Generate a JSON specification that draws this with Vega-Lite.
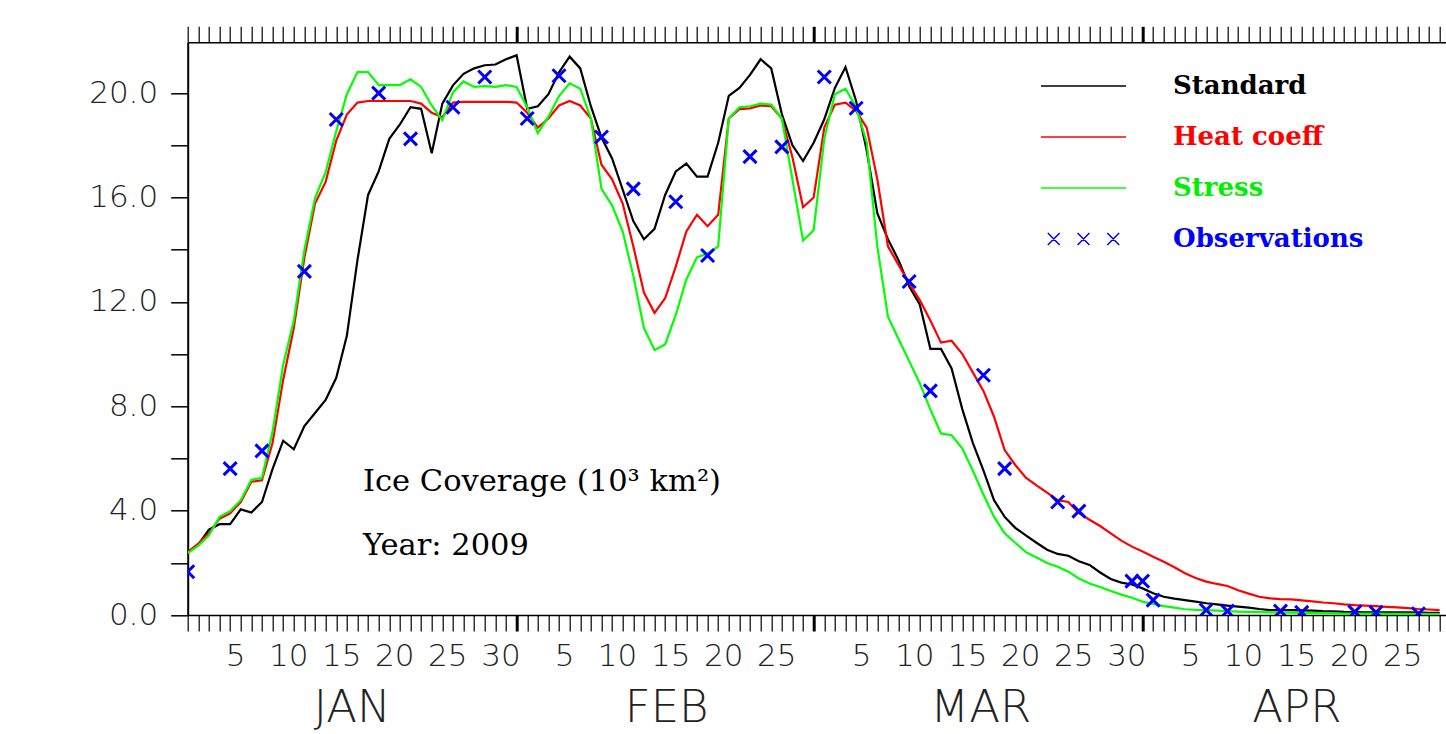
{
  "$schema": "https://vega.github.io/schema/vega-lite/v6.json",
  "autosize": {"type": "none"},
  "padding": {"left": 187.7, "top": 42.3, "right": 0, "bottom": 119},
  "width": 1258.3,
  "height": 572.7,
  "background": "white",
  "config": {
    "view": {"stroke": null},
    "axis": {"grid": false, "domainColor": "#000000", "tickColor": "#000000", "labelColor": "#222222", "labelFont": "DejaVu Sans"},
    "axisY": {
      "title": null,
      "values": [0,2,4,6,8,10,12,14,16,18,20],
      "labelExpr": "datum.value % 4 == 0 ? format(datum.value, '.1f') : ''",
      "tickSize": 17, "tickWidth": 1.5, "labelPadding": 13,
      "labelFontSize": 31, "labelFontWeight": 200,
      "labelOverlap": false, "labelBound": false, "labelFlush": false,
      "domainWidth": 2
    }
  },
  "datasets": {
    "model": [
      {"doy":1,"Standard":2.41,"Heat coeff":2.41,"Stress":2.37},
      {"doy":2,"Standard":2.7,"Heat coeff":2.74,"Stress":2.66},
      {"doy":3,"Standard":3.27,"Heat coeff":3.13,"Stress":3.05},
      {"doy":4,"Standard":3.48,"Heat coeff":3.69,"Stress":3.76},
      {"doy":5,"Standard":3.48,"Heat coeff":3.9,"Stress":3.98},
      {"doy":6,"Standard":4.05,"Heat coeff":4.33,"Stress":4.4},
      {"doy":7,"Standard":3.93,"Heat coeff":5.11,"Stress":5.18},
      {"doy":8,"Standard":4.33,"Heat coeff":5.16,"Stress":5.26},
      {"doy":9,"Standard":5.6,"Heat coeff":6.6,"Stress":7.03},
      {"doy":10,"Standard":6.68,"Heat coeff":9.02,"Stress":9.59},
      {"doy":11,"Standard":6.35,"Heat coeff":11.0,"Stress":11.29},
      {"doy":12,"Standard":7.24,"Heat coeff":13.7,"Stress":13.99},
      {"doy":13,"Standard":7.74,"Heat coeff":15.77,"Stress":15.98},
      {"doy":14,"Standard":8.24,"Heat coeff":16.6,"Stress":16.97},
      {"doy":15,"Standard":9.09,"Heat coeff":18.18,"Stress":18.54},
      {"doy":16,"Standard":10.7,"Heat coeff":19.18,"Stress":19.96},
      {"doy":17,"Standard":13.6,"Heat coeff":19.64,"Stress":20.81},
      {"doy":18,"Standard":16.1,"Heat coeff":19.7,"Stress":20.81},
      {"doy":19,"Standard":17.0,"Heat coeff":19.7,"Stress":20.31},
      {"doy":20,"Standard":18.25,"Heat coeff":19.7,"Stress":20.31},
      {"doy":21,"Standard":18.8,"Heat coeff":19.7,"Stress":20.31},
      {"doy":22,"Standard":19.46,"Heat coeff":19.7,"Stress":20.53},
      {"doy":23,"Standard":19.4,"Heat coeff":19.6,"Stress":20.24},
      {"doy":24,"Standard":17.7,"Heat coeff":19.25,"Stress":19.53},
      {"doy":25,"Standard":19.6,"Heat coeff":19.08,"Stress":18.96},
      {"doy":26,"Standard":20.3,"Heat coeff":19.64,"Stress":20.03},
      {"doy":27,"Standard":20.74,"Heat coeff":19.67,"Stress":20.45},
      {"doy":28,"Standard":20.95,"Heat coeff":19.67,"Stress":20.24},
      {"doy":29,"Standard":21.07,"Heat coeff":19.67,"Stress":20.27},
      {"doy":30,"Standard":21.1,"Heat coeff":19.67,"Stress":20.24},
      {"doy":31,"Standard":21.3,"Heat coeff":19.67,"Stress":20.31},
      {"doy":32,"Standard":21.45,"Heat coeff":19.64,"Stress":20.24},
      {"doy":33,"Standard":19.4,"Heat coeff":19.25,"Stress":19.46},
      {"doy":34,"Standard":19.5,"Heat coeff":18.68,"Stress":18.47},
      {"doy":35,"Standard":19.96,"Heat coeff":19.03,"Stress":19.1},
      {"doy":36,"Standard":20.8,"Heat coeff":19.53,"Stress":19.89},
      {"doy":37,"Standard":21.4,"Heat coeff":19.7,"Stress":20.38},
      {"doy":38,"Standard":20.95,"Heat coeff":19.53,"Stress":20.17},
      {"doy":39,"Standard":19.5,"Heat coeff":19.03,"Stress":19.03},
      {"doy":40,"Standard":18.3,"Heat coeff":17.26,"Stress":16.33},
      {"doy":41,"Standard":17.5,"Heat coeff":16.7,"Stress":15.7},
      {"doy":42,"Standard":16.3,"Heat coeff":15.77,"Stress":14.7},
      {"doy":43,"Standard":15.1,"Heat coeff":14.13,"Stress":13.0},
      {"doy":44,"Standard":14.4,"Heat coeff":12.36,"Stress":11.0},
      {"doy":45,"Standard":14.8,"Heat coeff":11.58,"Stress":10.16},
      {"doy":46,"Standard":16.1,"Heat coeff":12.14,"Stress":10.37},
      {"doy":47,"Standard":17.0,"Heat coeff":13.35,"Stress":11.5},
      {"doy":48,"Standard":17.3,"Heat coeff":14.7,"Stress":12.86},
      {"doy":49,"Standard":16.8,"Heat coeff":15.34,"Stress":13.71},
      {"doy":50,"Standard":16.8,"Heat coeff":14.9,"Stress":13.85},
      {"doy":51,"Standard":18.1,"Heat coeff":15.34,"Stress":14.13},
      {"doy":52,"Standard":19.9,"Heat coeff":19.03,"Stress":19.03},
      {"doy":53,"Standard":20.2,"Heat coeff":19.39,"Stress":19.46},
      {"doy":54,"Standard":20.7,"Heat coeff":19.42,"Stress":19.5},
      {"doy":55,"Standard":21.3,"Heat coeff":19.53,"Stress":19.6},
      {"doy":56,"Standard":20.95,"Heat coeff":19.5,"Stress":19.56},
      {"doy":57,"Standard":19.2,"Heat coeff":19.03,"Stress":19.03},
      {"doy":58,"Standard":18.0,"Heat coeff":17.54,"Stress":16.69},
      {"doy":59,"Standard":17.4,"Heat coeff":15.63,"Stress":14.35},
      {"doy":60,"Standard":18.1,"Heat coeff":16.0,"Stress":14.75},
      {"doy":61,"Standard":19.0,"Heat coeff":18.68,"Stress":18.25},
      {"doy":62,"Standard":20.2,"Heat coeff":19.56,"Stress":19.96},
      {"doy":63,"Standard":21.0,"Heat coeff":19.64,"Stress":20.17},
      {"doy":64,"Standard":19.7,"Heat coeff":19.32,"Stress":19.46},
      {"doy":65,"Standard":17.8,"Heat coeff":18.68,"Stress":18.11},
      {"doy":66,"Standard":15.4,"Heat coeff":16.7,"Stress":14.13},
      {"doy":67,"Standard":14.4,"Heat coeff":14.13,"Stress":11.43},
      {"doy":68,"Standard":13.6,"Heat coeff":13.42,"Stress":10.58},
      {"doy":69,"Standard":12.6,"Heat coeff":12.71,"Stress":9.73},
      {"doy":70,"Standard":11.9,"Heat coeff":12.07,"Stress":8.88},
      {"doy":71,"Standard":10.2,"Heat coeff":11.29,"Stress":7.88},
      {"doy":72,"Standard":10.2,"Heat coeff":10.44,"Stress":6.96},
      {"doy":73,"Standard":9.45,"Heat coeff":10.51,"Stress":6.89},
      {"doy":74,"Standard":7.9,"Heat coeff":10.01,"Stress":6.39},
      {"doy":75,"Standard":6.6,"Heat coeff":9.3,"Stress":5.54},
      {"doy":76,"Standard":5.54,"Heat coeff":8.59,"Stress":4.62},
      {"doy":77,"Standard":4.4,"Heat coeff":7.6,"Stress":3.76},
      {"doy":78,"Standard":3.76,"Heat coeff":6.32,"Stress":3.13},
      {"doy":79,"Standard":3.34,"Heat coeff":5.75,"Stress":2.77},
      {"doy":80,"Standard":3.05,"Heat coeff":5.26,"Stress":2.41},
      {"doy":81,"Standard":2.77,"Heat coeff":4.97,"Stress":2.2},
      {"doy":82,"Standard":2.5,"Heat coeff":4.69,"Stress":1.99},
      {"doy":83,"Standard":2.34,"Heat coeff":4.4,"Stress":1.85},
      {"doy":84,"Standard":2.27,"Heat coeff":4.33,"Stress":1.66},
      {"doy":85,"Standard":2.06,"Heat coeff":3.9,"Stress":1.4},
      {"doy":86,"Standard":1.92,"Heat coeff":3.65,"Stress":1.21},
      {"doy":87,"Standard":1.63,"Heat coeff":3.41,"Stress":1.07},
      {"doy":88,"Standard":1.38,"Heat coeff":3.13,"Stress":0.92},
      {"doy":89,"Standard":1.24,"Heat coeff":2.85,"Stress":0.78},
      {"doy":90,"Standard":1.17,"Heat coeff":2.62,"Stress":0.66},
      {"doy":91,"Standard":1.02,"Heat coeff":2.43,"Stress":0.51},
      {"doy":92,"Standard":0.83,"Heat coeff":2.23,"Stress":0.42},
      {"doy":93,"Standard":0.7,"Heat coeff":2.04,"Stress":0.34},
      {"doy":94,"Standard":0.63,"Heat coeff":1.83,"Stress":0.28},
      {"doy":95,"Standard":0.57,"Heat coeff":1.6,"Stress":0.22},
      {"doy":96,"Standard":0.51,"Heat coeff":1.42,"Stress":0.2},
      {"doy":97,"Standard":0.45,"Heat coeff":1.28,"Stress":0.19},
      {"doy":98,"Standard":0.41,"Heat coeff":1.19,"Stress":0.17},
      {"doy":99,"Standard":0.36,"Heat coeff":1.11,"Stress":0.15},
      {"doy":100,"Standard":0.32,"Heat coeff":0.95,"Stress":0.13},
      {"doy":101,"Standard":0.28,"Heat coeff":0.82,"Stress":0.12},
      {"doy":102,"Standard":0.23,"Heat coeff":0.7,"Stress":0.11},
      {"doy":103,"Standard":0.19,"Heat coeff":0.64,"Stress":0.1},
      {"doy":104,"Standard":0.19,"Heat coeff":0.61,"Stress":0.09},
      {"doy":105,"Standard":0.19,"Heat coeff":0.6,"Stress":0.09},
      {"doy":106,"Standard":0.18,"Heat coeff":0.56,"Stress":0.08},
      {"doy":107,"Standard":0.17,"Heat coeff":0.52,"Stress":0.08},
      {"doy":108,"Standard":0.15,"Heat coeff":0.48,"Stress":0.07},
      {"doy":109,"Standard":0.14,"Heat coeff":0.45,"Stress":0.06},
      {"doy":110,"Standard":0.12,"Heat coeff":0.41,"Stress":0.05},
      {"doy":111,"Standard":0.11,"Heat coeff":0.38,"Stress":0.05},
      {"doy":112,"Standard":0.1,"Heat coeff":0.36,"Stress":0.05},
      {"doy":113,"Standard":0.1,"Heat coeff":0.34,"Stress":0.05},
      {"doy":114,"Standard":0.1,"Heat coeff":0.31,"Stress":0.04},
      {"doy":115,"Standard":0.1,"Heat coeff":0.29,"Stress":0.04},
      {"doy":116,"Standard":0.1,"Heat coeff":0.26,"Stress":0.04},
      {"doy":117,"Standard":0.09,"Heat coeff":0.23,"Stress":0.03},
      {"doy":118,"Standard":0.08,"Heat coeff":0.21,"Stress":0.03},
      {"doy":119,"Standard":0.08,"Heat coeff":0.19,"Stress":0.03}
    ],
    "obs": [
      {"doy":1,"value":1.66,"series":"Observations"},
      {"doy":5,"value":5.61,"series":"Observations"},
      {"doy":8,"value":6.29,"series":"Observations"},
      {"doy":12,"value":13.17,"series":"Observations"},
      {"doy":15,"value":18.99,"series":"Observations"},
      {"doy":19,"value":20.0,"series":"Observations"},
      {"doy":22,"value":18.25,"series":"Observations"},
      {"doy":26,"value":19.46,"series":"Observations"},
      {"doy":29,"value":20.62,"series":"Observations"},
      {"doy":33,"value":19.03,"series":"Observations"},
      {"doy":36,"value":20.67,"series":"Observations"},
      {"doy":40,"value":18.32,"series":"Observations"},
      {"doy":43,"value":16.33,"series":"Observations"},
      {"doy":47,"value":15.84,"series":"Observations"},
      {"doy":50,"value":13.78,"series":"Observations"},
      {"doy":54,"value":17.57,"series":"Observations"},
      {"doy":57,"value":17.94,"series":"Observations"},
      {"doy":61,"value":20.62,"series":"Observations"},
      {"doy":64,"value":19.42,"series":"Observations"},
      {"doy":69,"value":12.78,"series":"Observations"},
      {"doy":71,"value":8.59,"series":"Observations"},
      {"doy":76,"value":9.19,"series":"Observations"},
      {"doy":78,"value":5.61,"series":"Observations"},
      {"doy":83,"value":4.33,"series":"Observations"},
      {"doy":85,"value":3.98,"series":"Observations"},
      {"doy":90,"value":1.3,"series":"Observations"},
      {"doy":91,"value":1.3,"series":"Observations"},
      {"doy":92,"value":0.57,"series":"Observations"},
      {"doy":97,"value":0.19,"series":"Observations"},
      {"doy":99,"value":0.15,"series":"Observations"},
      {"doy":104,"value":0.15,"series":"Observations"},
      {"doy":106,"value":0.1,"series":"Observations"},
      {"doy":111,"value":0.12,"series":"Observations"},
      {"doy":113,"value":0.1,"series":"Observations"},
      {"doy":117,"value":0.05,"series":"Observations"}
    ]
  },
  "resolve": {"axis": {"x": "independent", "y": "shared"}},
  "layer": [
    {
      "data": {"name": "model"},
      "transform": [{"fold": ["Standard", "Heat coeff", "Stress"], "as": ["series", "value"]}],
      "mark": {"type": "line", "strokeWidth": 2.2, "clip": true},
      "encoding": {
        "x": {
          "field": "doy", "type": "quantitative",
          "scale": {"domain": [1, 119.6], "nice": false, "zero": false},
          "axis": {
            "orient": "bottom", "title": null,
            "values": [1,2,3,4,5,6,7,8,9,10,11,12,13,14,15,16,17,18,19,20,21,22,23,24,25,26,27,28,29,30,31,32,33,34,35,36,37,38,39,40,41,42,43,44,45,46,47,48,49,50,51,52,53,54,55,56,57,58,59,60,61,62,63,64,65,66,67,68,69,70,71,72,73,74,75,76,77,78,79,80,81,82,83,84,85,86,87,88,89,90,91,92,93,94,95,96,97,98,99,100,101,102,103,104,105,106,107,108,109,110,111,112,113,114,115,116,117,118,119],
            "tickSize": 16,
            "tickWidth": {"condition": {"test": "datum.value == 32 || datum.value == 60 || datum.value == 91", "value": 3}, "value": 1.2},
            "labelExpr": "(datum.value - (datum.value > 90 ? 90 : datum.value > 59 ? 59 : datum.value > 31 ? 31 : 0)) % 5 == 0 ? '' + (datum.value - (datum.value > 90 ? 90 : datum.value > 59 ? 59 : datum.value > 31 ? 31 : 0)) : ''",
            "labelOffset": 5, "labelPadding": 10, "labelFontSize": 31, "labelFontWeight": 200,
            "labelFlush": false, "labelOverlap": false, "labelBound": false,
            "domainWidth": 1.5
          }
        },
        "y": {
          "field": "value", "type": "quantitative",
          "scale": {"domain": [0, 21.95], "nice": false, "zero": false},
          "axis": {"title": null}
        },
        "color": {
          "field": "series", "type": "nominal",
          "scale": {"domain": ["Standard", "Heat coeff", "Stress", "Observations"], "range": ["#000000", "#ff0000", "#00ff00", "#0000ff"]},
          "legend": {
            "title": null, "orient": "none", "legendX": 852.3, "legendY": 28.7, "padding": 0,
            "symbolType": {"expr": "datum.value === 'Observations' ? 'M-0.84,-0.14L-0.56,0.14M-0.84,0.14L-0.56,-0.14M-0.14,-0.14L0.14,0.14M-0.14,0.14L0.14,-0.14M0.56,-0.14L0.84,0.14M0.56,0.14L0.84,-0.14' : 'stroke'"},
            "symbolSize": 7225, "symbolStrokeWidth": 1.5, "clipHeight": 30, "rowPadding": 21,
            "labelOffset": 46, "labelFont": "DejaVu Serif", "labelFontWeight": "bold", "labelFontSize": 26, "labelLimit": 400,
            "labelColor": {"expr": "datum.value === 'Standard' ? '#000000' : datum.value === 'Heat coeff' ? '#ff0000' : datum.value === 'Stress' ? '#00ee00' : '#0000ff'"}
          }
        }
      }
    },
    {
      "data": {"name": "obs"},
      "mark": {"type": "point", "shape": "M-1,-1L1,1M-1,1L1,-1", "size": 169, "strokeWidth": 3, "filled": false, "opacity": 1, "clip": true},
      "encoding": {
        "x": {
          "field": "doy", "type": "quantitative",
          "axis": {
            "orient": "top", "title": null, "labels": false,
            "values": [1,2,3,4,5,6,7,8,9,10,11,12,13,14,15,16,17,18,19,20,21,22,23,24,25,26,27,28,29,30,31,32,33,34,35,36,37,38,39,40,41,42,43,44,45,46,47,48,49,50,51,52,53,54,55,56,57,58,59,60,61,62,63,64,65,66,67,68,69,70,71,72,73,74,75,76,77,78,79,80,81,82,83,84,85,86,87,88,89,90,91,92,93,94,95,96,97,98,99,100,101,102,103,104,105,106,107,108,109,110,111,112,113,114,115,116,117,118,119],
            "tickSize": 16,
            "tickWidth": {"condition": {"test": "datum.value == 32 || datum.value == 60 || datum.value == 91", "value": 3}, "value": 1.2},
            "domainWidth": 1.5
          }
        },
        "y": {"field": "value", "type": "quantitative", "axis": {"title": null}},
        "color": {"field": "series", "type": "nominal", "legend": null}
      }
    },
    {
      "data": {"values": [{"note": "annotation"}]},
      "mark": {"type": "text", "align": "left", "baseline": "alphabetic", "font": "DejaVu Serif", "fontSize": 30.5, "lineHeight": 64, "color": "#000000"},
      "encoding": {
        "x": {
          "datum": 17.52, "type": "quantitative",
          "axis": {
            "orient": "bottom", "title": null, "ticks": false, "domain": false,
            "values": [16.46, 46.1, 75.7, 105.5],
            "labelExpr": "datum.value < 32 ? 'JAN' : datum.value < 60 ? 'FEB' : datum.value < 91 ? 'MAR' : 'APR'",
            "labelFontSize": 45, "labelFontWeight": 200, "labelPadding": 70,
            "labelFlush": false, "labelOverlap": false, "labelBound": false
          }
        },
        "y": {"datum": 4.75, "type": "quantitative", "axis": {"title": null}},
        "text": {"value": ["Ice Coverage (10³ km²)", "Year: 2009"]}
      }
    }
  ]
}
